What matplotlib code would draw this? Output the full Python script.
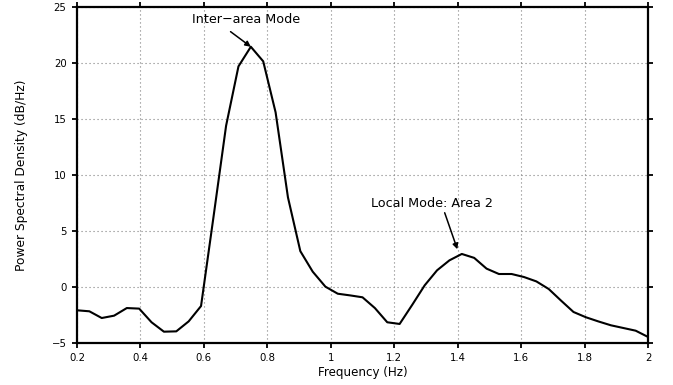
import matplotlib
matplotlib.use('Agg')
import matplotlib.pyplot as plt

plt.rcParams['font.family'] = ['DejaVu Sans']

# frequency bins (Hz) and estimated power spectral density (dB/Hz)
freq = [0.200, 0.239, 0.278, 0.317, 0.357, 0.396, 0.435, 0.474, 0.513, 0.552,
        0.591, 0.630, 0.670, 0.709, 0.748, 0.787, 0.826, 0.865, 0.904, 0.943,
        0.983, 1.022, 1.061, 1.100, 1.139, 1.178, 1.217, 1.257, 1.296, 1.335,
        1.374, 1.413, 1.452, 1.491, 1.530, 1.570, 1.609, 1.648, 1.687, 1.726,
        1.765, 1.804, 1.843, 1.883, 1.922, 1.961, 2.000]
psd = [-2.08, -2.17, -2.77, -2.56, -1.88, -1.93, -3.15, -3.99, -3.96, -3.07,
       -1.70, 6.20, 14.40, 19.70, 21.45, 20.15, 15.60, 8.00, 3.20, 1.37,
       0.03, -0.60, -0.75, -0.92, -1.88, -3.15, -3.30, -1.58, 0.15, 1.49,
       2.38, 2.95, 2.60, 1.64, 1.16, 1.16, 0.89, 0.50, -0.18, -1.22,
       -2.23, -2.70, -3.07, -3.42, -3.66, -3.90, -4.46]

xticks = [0.2, 0.4, 0.6, 0.8, 1.0, 1.2, 1.4, 1.6, 1.8, 2.0]
xticklabels = ['0.2', '0.4', '0.6', '0.8', '1', '1.2', '1.4', '1.6', '1.8', '2']
yticks = [-5, 0, 5, 10, 15, 20, 25]
yticklabels = ['\u22125', '0', '5', '10', '15', '20', '25']

fig = plt.figure(figsize=(6.73, 3.85), dpi=100, facecolor='white')
ax = fig.add_axes([0.1144, 0.1091, 0.8485, 0.8727])

ax.plot(freq, psd, color='black', linewidth=1.5)

ax.set_xlim(0.2, 2.0)
ax.set_ylim(-5, 25)
ax.set_xticks(xticks)
ax.set_xticklabels(xticklabels)
ax.set_yticks(yticks)
ax.set_yticklabels(yticklabels)

ax.grid(True, linestyle=(0, (1, 2.6)), color='0.5', linewidth=0.8)
ax.tick_params(direction='out', length=3.5, width=1.3, labelsize=7.3,
               top=True, right=True, pad=4)
for side in ax.spines.values():
    side.set_linewidth(1.6)

ax.set_xlabel('Frequency (Hz)', fontsize=8.6, labelpad=2)
ax.set_ylabel('Power Spectral Density (dB/Hz)', fontsize=8.8, labelpad=17)

# peak labels with arrows
arrow = dict(arrowstyle='-|>', color='black', lw=1.1,
             mutation_scale=8, shrinkA=0, shrinkB=0)
ax.text(0.732, 23.55, 'Inter\u2212area Mode', fontsize=9.2,
        ha='center', va='baseline')
ax.annotate('', xy=(0.748, 21.45), xytext=(0.684, 22.8), arrowprops=arrow)
ax.text(1.318, 7.12, 'Local Mode: Area 2', fontsize=9.2,
        ha='center', va='baseline')
ax.annotate('', xy=(1.399, 3.37), xytext=(1.359, 6.63), arrowprops=arrow)

fig.savefig('out.png', dpi=100, facecolor='white')
